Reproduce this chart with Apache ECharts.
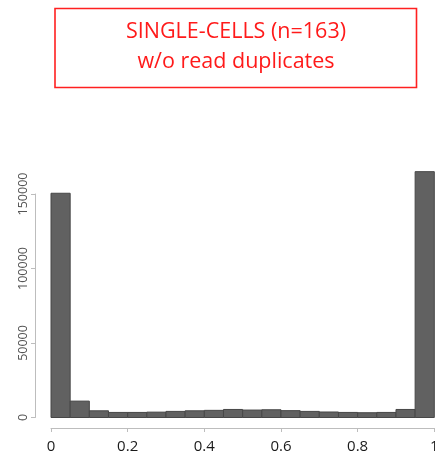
<!DOCTYPE html>
<html>
<head>
<meta charset="utf-8">
<script src="https://cdn.jsdelivr.net/npm/echarts@6/dist/echarts.min.js"></script>
<style>
  html, body { margin: 0; padding: 0; background: #fff; }
  #chart { width: 435px; height: 456px; }
</style>
</head>
<body>
<div id="chart"></div>
<script>
// Histogram of methylation levels (bin width 0.05)
const binStarts = [0, 0.05, 0.1, 0.15, 0.2, 0.25, 0.3, 0.35, 0.4, 0.45,
                   0.5, 0.55, 0.6, 0.65, 0.7, 0.75, 0.8, 0.85, 0.9, 0.95];
const binWidth = 0.05;
const counts = [150500, 11000, 4500, 3400, 3400, 3600, 4100, 4500, 4800, 5400,
                5000, 5200, 4600, 4100, 3700, 3400, 3200, 3400, 5400, 165000];
const xTicks = [0, 0.2, 0.4, 0.6, 0.8, 1];
const yTicks = [0, 50000, 100000, 150000];
const titleLines = ['SINGLE-CELLS (n=163)', 'w/o read duplicates'];

const histData = binStarts.map((s, i) => [s, s + binWidth, counts[i]]);

const chart = echarts.init(document.getElementById('chart'), null, { renderer: 'canvas' });

const plotLeft = 51, plotRight = 0.7, plotBottom = 38.5;
const pxPer50k = 74.5;
const yMax = 170000;
const y0 = 456 - plotBottom;
const topFor = v => y0 - v / 50000 * pxPer50k;

const font = '"Open Sans", "Noto Sans", sans-serif';

chart.setOption({
  animation: false,
  backgroundColor: '#ffffff',
  grid: [
    { left: plotLeft, right: plotRight, top: topFor(yMax), bottom: plotBottom,
      containLabel: false, outerBoundsMode: 'none' },
    { left: plotLeft, right: plotRight, top: topFor(yTicks[yTicks.length - 1]), bottom: plotBottom,
      containLabel: false, outerBoundsMode: 'none' }
  ],
  xAxis: [
    {
      type: 'value', gridIndex: 0, min: xTicks[0], max: xTicks[xTicks.length - 1], interval: 0.2,
      offset: 10.5,
      splitLine: { show: false },
      axisLine: { show: true, onZero: false, lineStyle: { color: '#bdbdbd', width: 1 } },
      axisTick: { show: true, length: 4, lineStyle: { color: '#bdbdbd' } },
      axisLabel: { margin: 11, color: '#1a1a1a', fontSize: 15, fontFamily: font,
                   showMaxLabel: true, showMinLabel: true, hideOverlap: false }
    },
    { type: 'value', gridIndex: 1, min: 0, max: 1, show: false }
  ],
  yAxis: [
    { type: 'value', gridIndex: 0, min: 0, max: yMax, show: false },
    {
      type: 'value', gridIndex: 1, min: 0, max: yTicks[yTicks.length - 1], interval: 50000,
      offset: 16,
      splitLine: { show: false },
      axisLine: { show: true, onZero: false, lineStyle: { color: '#bdbdbd', width: 1 } },
      axisTick: { show: true, length: 4, lineStyle: { color: '#bdbdbd' } },
      axisLabel: { rotate: 90, margin: 5, color: '#555555', fontSize: 12.5, fontFamily: font,
                   formatter: v => String(v) }
    }
  ],
  series: [{
    type: 'custom',
    xAxisIndex: 0,
    yAxisIndex: 0,
    data: histData,
    clip: false,
    renderItem: function (params, api) {
      const p0 = api.coord([api.value(0), 0]);
      const p1 = api.coord([api.value(1), api.value(2)]);
      return {
        type: 'rect',
        shape: { x: p0[0], y: p1[1], width: p1[0] - p0[0], height: p0[1] - p1[1] },
        style: { fill: '#616161', stroke: '#474747', lineWidth: 1 }
      };
    }
  }],
  graphic: [
    {
      type: 'rect',
      shape: { x: 55, y: 8.5, width: 361.5, height: 79 },
      style: { fill: 'none', stroke: '#ff2020', lineWidth: 1.6 }
    },
    {
      type: 'text', x: 236, y: 32,
      style: { text: titleLines[0], fill: '#ff1a1a', font: '21.5px ' + font,
               align: 'center', verticalAlign: 'middle' }
    },
    {
      type: 'text', x: 236, y: 61.5,
      style: { text: titleLines[1], fill: '#ff1a1a', font: '21.5px ' + font,
               align: 'center', verticalAlign: 'middle' }
    }
  ]
});
</script>
</body>
</html>
